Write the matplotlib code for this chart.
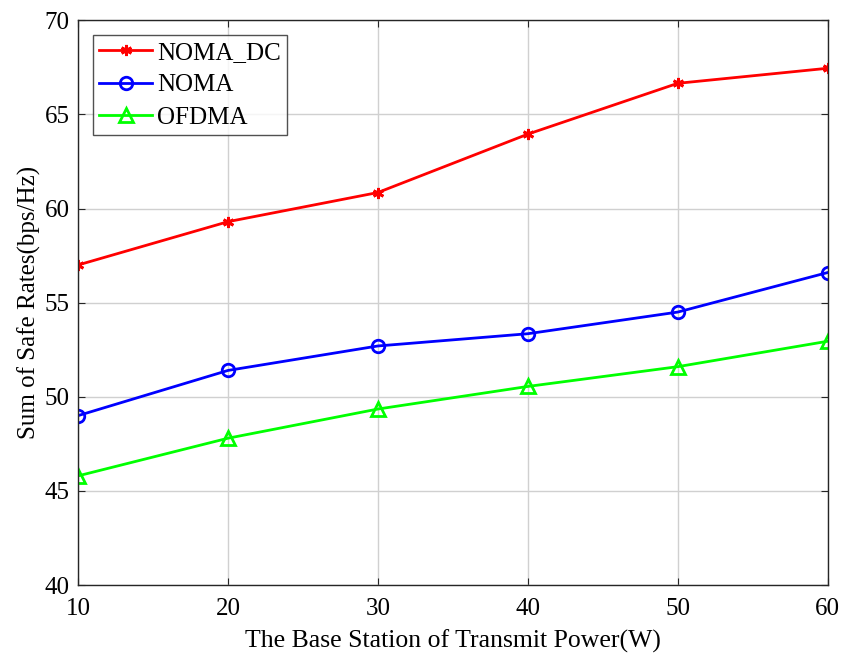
import matplotlib
matplotlib.use("Agg")
import matplotlib.pyplot as plt

x = [10, 20, 30, 40, 50, 60]
noma_dc = [57.0, 59.3, 60.85, 63.95, 66.65, 67.45]
noma = [49.0, 51.4, 52.7, 53.35, 54.5, 56.6]
ofdma = [45.8, 47.8, 49.35, 50.55, 51.6, 52.95]
xticks = [10, 20, 30, 40, 50, 60]
yticks = [40, 45, 50, 55, 60, 65, 70]

plt.rcParams['font.family'] = ['Liberation Serif', 'DejaVu Serif']
fig = plt.figure(figsize=(8.48, 6.53), dpi=100)
ax = fig.add_axes([0.092, 0.104, 0.884, 0.865])

ax.plot(x, noma_dc, color='#ff0000', lw=2, marker=(6, 2, 0), ms=8, mew=2, label='NOMA_DC')
ax.plot(x, noma, color='#0000ff', lw=2, marker='o', ms=9, mfc='none', mew=2, label='NOMA')
ax.plot(x, ofdma, color='#00ff00', lw=2, marker='^', ms=10, mfc='none', mew=2, label='OFDMA')

ax.set_xlim(10, 60)
ax.set_ylim(40, 70)
ax.set_xticks(xticks)
ax.set_yticks(yticks)
ax.grid(True, color='#d0d0d0', lw=1)
ax.set_axisbelow(True)
ax.tick_params(direction='in', labelsize=18, length=5, color='#262626', top=True, right=True,
               labeltop=False, labelright=False)
ax.tick_params(axis='x', pad=9)
ax.tick_params(axis='y', pad=6)
for s in ax.spines.values():
    s.set_color('#262626')
    s.set_linewidth(1)
ax.set_xlabel('The Base Station of Transmit Power(W)', fontsize=18.5, labelpad=7)
ax.set_ylabel('Sum of Safe Rates(bps/Hz)', fontsize=18, labelpad=3)
leg = ax.legend(loc='upper left', fontsize=18, fancybox=False, edgecolor='#262626',
                handlelength=2.1, borderaxespad=0.6, labelspacing=0.4, handletextpad=0.2,
                borderpad=0.25)
leg.get_frame().set_linewidth(1)

fig.savefig('out.png', dpi=100)
